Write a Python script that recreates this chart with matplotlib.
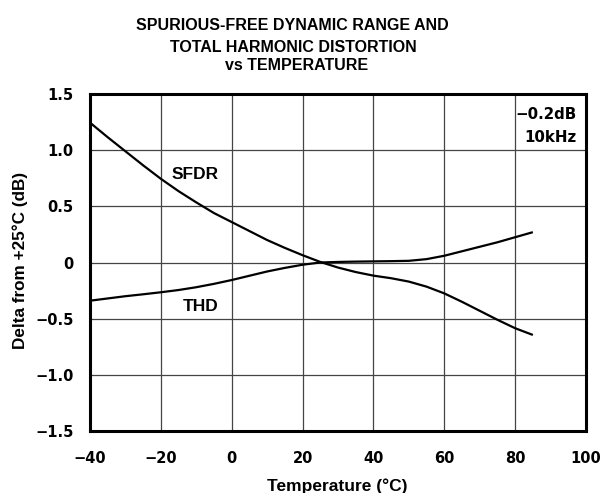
import matplotlib
matplotlib.use("Agg")
import matplotlib.pyplot as plt

temp = [-40, -35, -30, -25, -20, -15, -10, -5, 0, 5, 10, 15, 20, 25, 30, 35, 40, 45, 50, 55,
        60, 65, 70, 75, 80, 85]
sfdr = [1.245, 1.115, 0.99, 0.865, 0.745, 0.635, 0.535, 0.44, 0.36, 0.28, 0.20, 0.13, 0.065,
        0.005, -0.045, -0.085, -0.117, -0.14, -0.17, -0.215, -0.275, -0.35, -0.43, -0.51,
        -0.585, -0.645]
thd = [-0.34, -0.32, -0.30, -0.283, -0.265, -0.245, -0.22, -0.19, -0.156, -0.118, -0.08,
       -0.048, -0.02, 0.0, 0.005, 0.008, 0.01, 0.012, 0.015, 0.03, 0.06, 0.10, 0.14, 0.18,
       0.225, 0.27]

xticks = [-40, -20, 0, 20, 40, 60, 80, 100]
xlabels = ["\u221240", "\u221220", "0", "20", "40", "60", "80", "100"]
yticks = [-1.5, -1.0, -0.5, 0, 0.5, 1.0, 1.5]
ylabels = ["\u22121.5", "\u22121.0", "\u22120.5", "0", "0.5", "1.0", "1.5"]

W, H = 602, 493
LIB = ['Liberation Sans', 'DejaVu Sans']
DJV = ['DejaVu Sans']

fig = plt.figure(figsize=(W / 100, H / 100), dpi=100)
ax = fig.add_axes([90 / W, 1 - 431 / H, 496 / W, 337 / H])

ax.plot(temp, sfdr, color='black', lw=1.6, solid_capstyle='butt', solid_joinstyle='round')
ax.plot(temp, thd, color='black', lw=1.6, solid_capstyle='butt', solid_joinstyle='round')

ax.set_xlim(-40, 100)
ax.set_ylim(-1.5, 1.5)
ax.set_xticks(xticks)
ax.set_xticklabels(xlabels)
ax.set_yticks(yticks)
ax.set_yticklabels(ylabels)
ax.tick_params(axis='y', length=0, labelsize=10.5, pad=12)
ax.tick_params(axis='x', length=0, labelsize=10.5, pad=14.5)
for lab in ax.get_xticklabels() + ax.get_yticklabels():
    lab.set_fontweight('bold')
    lab.set_family(DJV)
ax.grid(True, color='#444444', lw=0.9)
for s in ax.spines.values():
    s.set_linewidth(2.2)

def px(x, y):
    return x / W, 1 - y / H

fig.text(*px(337, 491.5), "Temperature (\u00b0C)", fontsize=12.5, fontweight='bold',
         family=LIB, ha='center', va='baseline')
fig.text(*px(20, 260), "Delta from +25\u00b0C (dB)", fontsize=12.3, fontweight='bold',
         family=LIB, ha='center', va='center', rotation=90)

fig.text(*px(195.5, 178.7), "SFDR", fontsize=12.5, fontweight='bold', family=LIB,
         ha='center', va='baseline')
fig.text(*px(201, 310.7), "THD", fontsize=12.5, fontweight='bold', family=LIB,
         ha='center', va='baseline')
fig.text(*px(577, 119.3), "\u22120.2dB", fontsize=10.8, fontweight='bold', family=DJV,
         ha='right', va='baseline')
fig.text(*px(577, 141.5), "10kHz", fontsize=10.8, fontweight='bold', family=DJV,
         ha='right', va='baseline')

fig.text(*px(292.5, 30), "SPURIOUS-FREE DYNAMIC RANGE AND", fontsize=11.5, fontweight='bold',
         family=LIB, ha='center', va='baseline')
fig.text(*px(293.5, 51.7), "TOTAL HARMONIC DISTORTION", fontsize=11.5, fontweight='bold',
         family=LIB, ha='center', va='baseline')
fig.text(*px(297, 70), "vs TEMPERATURE", fontsize=11.5, fontweight='bold',
         family=LIB, ha='center', va='baseline')

fig.savefig("out.png", dpi=100)
